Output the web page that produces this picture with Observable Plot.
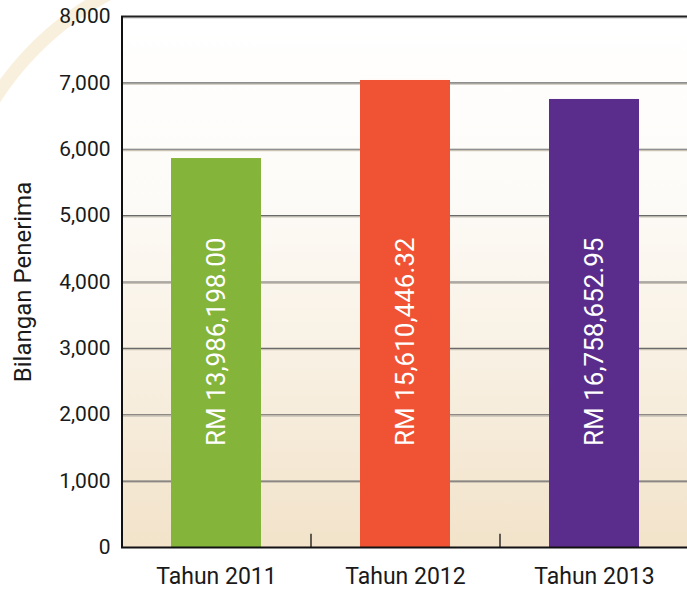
<!DOCTYPE html>
<html>
<head>
<meta charset="utf-8">
<script src="https://cdn.jsdelivr.net/npm/d3@7"></script>
<script src="https://cdn.jsdelivr.net/npm/@observablehq/plot@0.6"></script>
<style>
  html, body { margin: 0; padding: 0; background: #fff; }
  #chart {
    width: 687px; height: 589px; position: relative;
    background: radial-gradient(circle at 250px 262px, transparent 296px, #f8f0dc 297px, #f8f0dc 309px, transparent 310px) no-repeat 0 0 / 120px 110px;
  }
  #chart svg { display: block; background: transparent; }
</style>
</head>
<body>
<div id="chart"></div>
<script>
const years = ["Tahun 2011", "Tahun 2012", "Tahun 2013"];
const recipients = [5860, 7036, 6750];
const amounts = ["RM 13,986,198.00", "RM 15,610,446.32", "RM 16,758,652.95"];
const colors = ["#84b43a", "#f05234", "#5a2d8c"];
const yTicks = [0, 1000, 2000, 3000, 4000, 5000, 6000, 7000, 8000];
const gridTicks = [1000, 2000, 3000, 4000, 5000, 6000, 7000];
const yLabel = "Bilangan Penerima";
const labelValue = 3100;

const data = years.map((y, i) => ({year: y, value: recipients[i], amount: amounts[i], color: colors[i]}));

const plot = Plot.plot({
  width: 687,
  height: 589,
  marginLeft: 121,
  marginRight: -1,
  marginTop: 16,
  marginBottom: 42,
  style: {fontFamily: "Roboto, 'Liberation Sans', sans-serif", color: "#1a1a1a", background: "transparent"},
  x: {domain: years, paddingInner: 0.524, paddingOuter: 0.262, axis: null},
  y: {domain: [0, 8000], axis: null},
  marks: [
    Plot.frame({fill: "url(#bgGrad)", stroke: null}),
    Plot.ruleY(gridTicks, {stroke: "#c9c2b5", strokeWidth: 1.2, dy: 1.3}),
    Plot.ruleY(gridTicks, {stroke: "#6a6a6a", strokeWidth: 1.2}),
    Plot.ruleY([8000], {stroke: "#c8c8c8", strokeWidth: 1.2, dy: 1.5}),
    Plot.ruleY([8000], {stroke: "#222", strokeWidth: 1.8}),
    Plot.barY(data, {x: "year", y: "value", fill: "color"}),
    Plot.text(data, {x: "year", y: () => labelValue, text: "amount", rotate: -90, fill: "white", fontSize: 26, textAnchor: "middle"}),
    Plot.ruleX(years.slice(0, 2), {x: d => d, y1: 0, y2: 200, dx: 94.5, stroke: "#111", strokeWidth: 1.3}),
    Plot.ruleY([0], {stroke: "#111", strokeWidth: 2}),
    Plot.axisY({ticks: yTicks, tickSize: 0, tickPadding: 11, fontSize: 21, tickFormat: d3.format(","), label: null}),
    Plot.axisY({ticks: [], tickSize: 0, label: yLabel, labelAnchor: "center", labelOffset: 108, labelArrow: "none", fontSize: 24}),
    Plot.axisX({tickSize: 0, tickPadding: 20, fontSize: 23, label: null}),
    Plot.ruleX([0], {x: () => years[0], dx: -94.5, y1: 0, y2: 8000, stroke: "#111", strokeWidth: 2})
  ]
});

const svg = d3.select(plot);
const defs = svg.insert("defs", ":first-child");
const grad = defs.append("linearGradient").attr("id", "bgGrad").attr("x1", 0).attr("y1", 0).attr("x2", 0).attr("y2", 1);
grad.append("stop").attr("offset", "0%").attr("stop-color", "#ffffff");
grad.append("stop").attr("offset", "35%").attr("stop-color", "#fdfbf7");
grad.append("stop").attr("offset", "100%").attr("stop-color", "#f2e3ca");

document.getElementById("chart").appendChild(plot);
</script>
</body>
</html>
